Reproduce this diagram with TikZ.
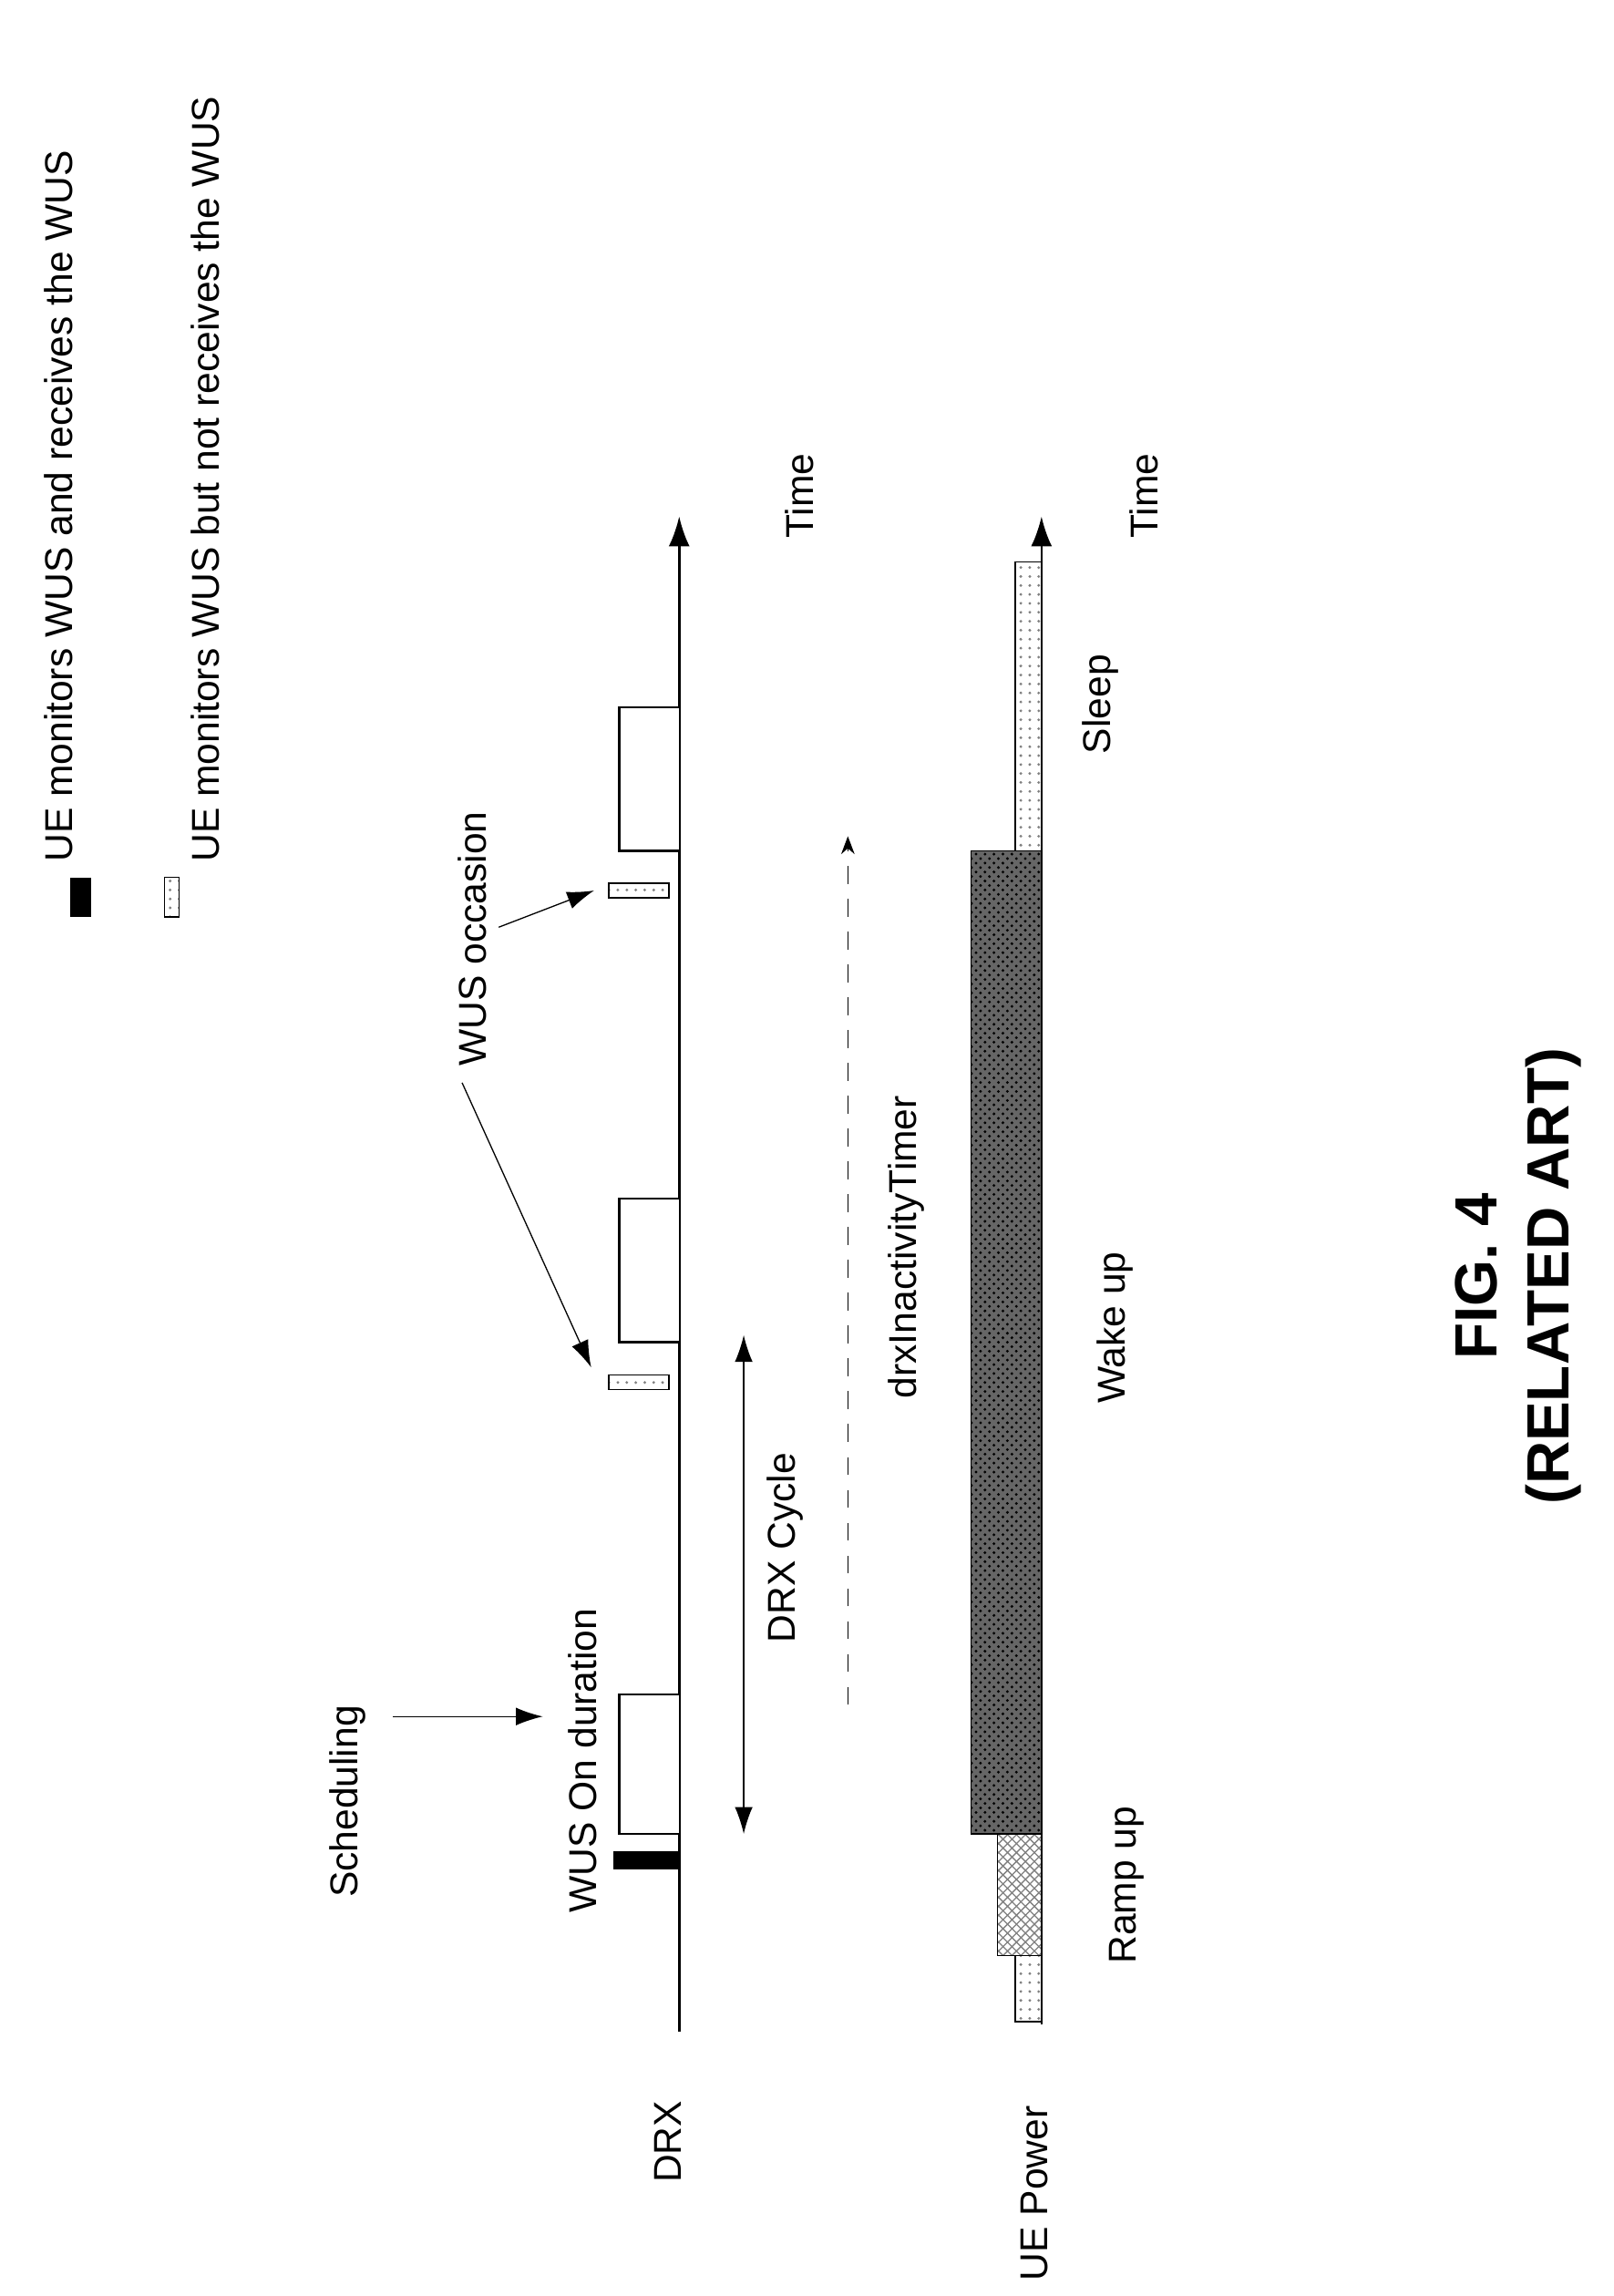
\documentclass[tikz,border=0pt]{standalone}
\usepackage{fontspec}
\setmainfont{Liberation Sans}
\usetikzlibrary{patterns,arrows.meta}

\begin{document}
\begin{tikzpicture}[x=0.01727cm,y=-0.01727cm,
    lbl/.style={rotate=90,font=\fontsize{13}{16}\selectfont,inner sep=1pt},
    onbox/.style={draw,thick,fill=white},
    wusdot/.style={draw,pattern=dots,pattern color=gray},
    axis/.style={thick,-{Latex[length=10pt,width=7pt]}},
    pointer/.style={-{Latex[length=9pt,width=6pt]}}]

    \useasboundingbox (0,0) rectangle (1100,1565);

    % axes
    \coordinate (drxStart) at (463,1385);
    \coordinate (drxEnd) at (463,352);
    \coordinate (pwrStart) at (710,1380);
    \coordinate (pwrEnd) at (710,352);
    \draw [axis] (drxStart) -- (drxEnd);
    \draw [axis] (pwrStart) -- (pwrEnd);
    \node [lbl] (drxLabel) at (455,1460) {DRX};
    \node [lbl] (pwrLabel) at (705,1495) {UE Power};
    \node [lbl] (time1) at (545,338) {Time};
    \node [lbl] (time2) at (780,338) {Time};

    % on durations
    \draw [onbox] (463,1250) -- (422,1250) -- (422,1155) -- (463,1155);
    \draw [onbox] (463,915) -- (422,915) -- (422,817) -- (463,817);
    \draw [onbox] (463,580) -- (422,580) -- (422,482) -- (463,482);

    % WUS markers
    \fill [black] (418,1262) rectangle (464,1274);
    \draw [wusdot] (415,937) rectangle (456,947);
    \draw [wusdot] (415,602) rectangle (456,612);

    % labels and pointers
    \node [lbl] (onDur) at (397,1200) {WUS On duration};
    \node [lbl] (sched) at (237,1228) {Scheduling};
    \coordinate (schedFrom) at (268,1170);
    \coordinate (schedTo) at (370,1170);
    \draw [pointer] (schedFrom) -- (schedTo);
    \node [lbl] (wusOcc) at (322,640) {WUS occasion};
    \coordinate (occA) at (403,932);
    \coordinate (occB) at (405,607);
    \draw [pointer] (315,738) -- (occA);
    \draw [pointer] (340,632) -- (occB);

    % DRX cycle
    \coordinate (cycA) at (507,1250);
    \coordinate (cycB) at (507,910);
    \draw [{Latex[length=9pt,width=6pt]}-{Latex[length=9pt,width=6pt]}] (cycA) -- (cycB);
    \node [lbl] (cycLabel) at (535,1055) {DRX Cycle};

    % inactivity timer
    \coordinate (timA) at (578,1162);
    \coordinate (timB) at (578,570);
    \draw [dash pattern=on 6pt off 5pt,-{Stealth[length=6pt]}] (timA) -- (timB);
    \node [lbl] (timLabel) at (618,850) {drxInactivityTimer};

    % UE power
    \draw [fill=gray!80!black] (662,580) rectangle (710,1250);
    \draw [pattern=crosshatch dots,pattern color=black] (662,580) rectangle (710,1250);
    \draw [pattern=crosshatch,pattern color=gray] (680,1250) rectangle (710,1333);
    \draw [pattern=dots,pattern color=gray] (692,1333) rectangle (710,1378);
    \draw [pattern=dots,pattern color=gray] (692,383) rectangle (710,580);
    \node [lbl] (ramp) at (768,1285) {Ramp up};
    \node [lbl] (wake) at (760,905) {Wake up};
    \node [lbl] (sleep) at (750,480) {Sleep};

    % legend
    \fill [black] (48,598) rectangle (62,625);
    \draw [wusdot] (112,598) rectangle (122,625);
    \node [lbl,anchor=west] (leg1) at (40,590) {UE monitors WUS and receives the WUS};
    \node [lbl,anchor=west] (leg2) at (140,590) {UE monitors WUS but not receives the WUS};

    % caption
    \node [lbl,font=\fontsize{20}{24}\selectfont\bfseries,align=center] (fig) at (1035,870) {FIG. 4\\(RELATED ART)};

\end{tikzpicture}
\end{document}
